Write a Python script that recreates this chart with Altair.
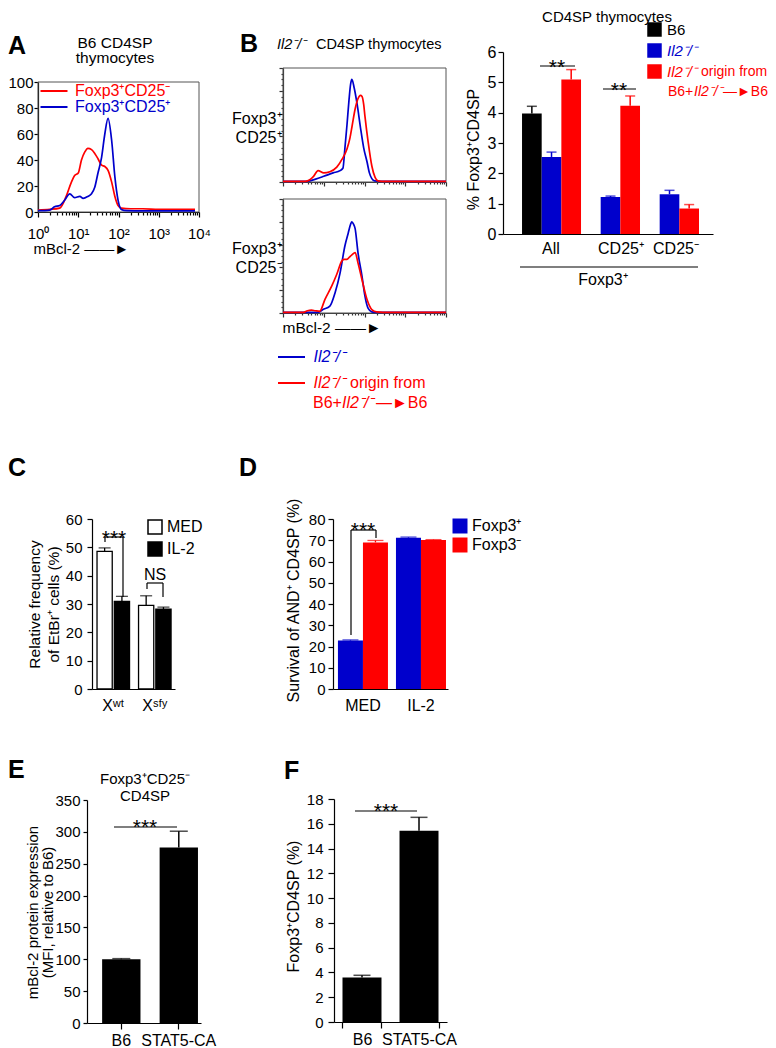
import altair as alt
import pandas as pd

# ---------------- colours / fonts ----------------
RED = "#FF0000"
BLUE = "#0000CC"
BLACK = "#000000"
FRAME = "#555555"
FONT = "Liberation Sans"

# ---------------- Panel A : B6 CD4SP thymocytes (mBcl-2 histograms) ----------------
A_pops = ["Foxp3⁺CD25⁻", "Foxp3⁺CD25⁺"]
A_red_log = [0, 0.29, 0.54, 0.7, 0.83, 0.91, 1.0, 1.08, 1.16, 1.24, 1.33, 1.41, 1.49,
             1.58, 1.66, 1.74, 1.83, 1.91, 1.99, 2.07, 2.3, 2.6, 3.0, 3.5, 3.9]
A_red_pct = [1.5, 2, 3, 12, 23, 28, 30, 40, 46, 49, 48, 45, 41,
             36, 35, 32, 23, 12, 5, 3, 2.5, 2.5, 2, 2, 2]
A_blue_log = [0, 0.29, 0.41, 0.54, 0.66, 0.79, 0.91, 1.04, 1.12, 1.24, 1.33, 1.41, 1.49,
              1.58, 1.66, 1.74, 1.83, 1.91, 1.99, 2.07, 2.2, 2.6, 3.0, 3.5, 3.9]
A_blue_pct = [1, 1.5, 4, 5, 9, 14, 11, 12, 10.5, 12, 14, 19, 30,
              42, 60, 72, 55, 27, 9, 2, 1, 0.8, 0.8, 0.8, 0.8]

# ---------------- Panel B : Il2-/- CD4SP histograms ----------------
B_up_blue_log = [0, 0.5, 0.66, 0.8, 1.0, 1.23, 1.4, 1.47, 1.52, 1.57, 1.62, 1.66, 1.69,
                 1.75, 1.82, 1.9, 1.98, 2.06, 2.12, 2.18, 2.25, 2.5, 3.0, 3.5, 4.0]
B_up_blue_pct = [0.5, 0.5, 1, 2.5, 5, 8, 10, 12, 30, 50, 72, 86, 90,
                 82, 68, 48, 30, 18, 8, 3, 1, 0.5, 0.5, 0.5, 0.5]
B_up_red_log = [0, 0.5, 0.6, 0.75, 0.86, 1.0, 1.15, 1.32, 1.45, 1.57, 1.64, 1.7, 1.77,
                1.84, 1.9, 1.94, 1.98, 2.01, 2.09, 2.18, 2.26, 2.33, 2.5, 3.0, 3.5, 4.0]
B_up_red_pct = [0.5, 0.5, 1, 5, 10, 8, 9, 13, 20, 29, 38, 50, 64,
                73, 76, 75, 68, 58, 35, 14, 4, 1, 0.5, 0.5, 0.5, 0.5]
B_lo_blue_log = [0, 0.5, 0.86, 0.98, 1.15, 1.28, 1.4, 1.52, 1.6, 1.66, 1.69, 1.73,
                 1.77, 1.84, 1.94, 2.01, 2.09, 2.18, 2.3, 2.6, 3.0, 3.5, 4.0]
B_lo_blue_pct = [0.5, 0.5, 0.5, 3, 6, 18, 35, 59, 70, 78, 80, 78,
                 74, 53, 32, 15, 4, 1, 0.5, 0.5, 0.5, 0.5, 0.5]
B_lo_red_log = [0, 0.5, 0.6, 0.7, 0.79, 0.9, 1.03, 1.2, 1.32, 1.45, 1.5, 1.57,
                1.63, 1.69, 1.77, 1.84, 1.94, 2.06, 2.18, 2.3, 2.6, 3.0, 3.5, 4.0]
B_lo_red_pct = [0.5, 0.5, 2, 2.5, 2, 1.5, 12, 24, 34, 46, 47, 47,
                49, 51, 53, 44, 29, 12, 3, 1, 0.5, 0.5, 0.5, 0.5]

# ---------------- Panel B : bar chart ----------------
B_groups = ["All", "All", "All", "CD25⁺", "CD25⁺", "CD25⁻", "CD25⁻"]
B_series = ["B6", "Il2", "Chim", "Il2", "Chim", "Il2", "Chim"]
B_values = [3.97, 2.54, 5.09, 1.22, 4.23, 1.31, 0.84]
B_errors = [0.24, 0.16, 0.33, 0.03, 0.32, 0.13, 0.13]

# ---------------- Panel C ----------------
C_groups = ["Xʷᵗ", "Xʷᵗ", "Xˢᶠʸ", "Xˢᶠʸ"]
C_treat = ["MED", "IL-2", "MED", "IL-2"]
C_values = [48.6, 30.9, 29.5, 28.2]
C_errors = [1.2, 1.8, 3.4, 0.7]

# ---------------- Panel D ----------------
D_groups = ["MED", "MED", "IL-2", "IL-2"]
D_cells = ["Foxp3⁺", "Foxp3⁻", "Foxp3⁺", "Foxp3⁻"]
D_values = [22.8, 69.0, 71.2, 70.1]
D_errors = [0.3, 0.9, 0.3, 0.2]

# ---------------- Panels E / F ----------------
E_cats = ["B6", "STAT5-CA"]
E_values = [100, 275.5]
E_errors = [1.0, 25.5]
F_cats = ["B6", "STAT5-CA"]
F_values = [3.6, 15.44]
F_errors = [0.17, 1.08]

# ================= layout helpers =================
W, H = 760, 1040


def px(v):
    return v - 8


ONE = alt.Data(values=[{}])


def label(s, x, y, size=16, color=BLACK, align="left", baseline="middle", weight="normal", style="normal"):
    return alt.Chart(ONE).mark_text(text=s, font=FONT, fontSize=size, color=color, align=align,
                                    baseline=baseline, fontWeight=weight, fontStyle=style).encode(
        x=alt.value(px(x)), y=alt.value(px(y)))


def seg(x1, y1, x2, y2, width=1.2, color=BLACK):
    return alt.Chart(ONE).mark_rule(color=color, strokeWidth=width).encode(
        x=alt.value(px(x1)), y=alt.value(px(y1)), x2=alt.value(px(x2)), y2=alt.value(px(y2)))


def stars(s, cx, bottom, size=21):
    return label(s, cx, bottom + 0.44 * size, size=size, align="center", baseline="alphabetic")


def yaxis(xpage, values, **kw):
    base = dict(orient="left", offset=-px(xpage), values=values, grid=False, title=None,
                labelFontSize=15, tickSize=5, labelPadding=3)
    base.update(kw)
    return alt.Axis(**base)


def xaxis(ypage, **kw):
    base = dict(orient="bottom", offset=px(ypage) - H, grid=False, title=None)
    base.update(kw)
    return alt.Axis(**base)


def tick_cond(test, big, small):
    return {"condition": {"test": test, "value": big}, "value": small}


LOG_TICKS = [m * 10 ** e for e in range(4) for m in range(1, 10)] + [10000]
MAJOR = "datum.value == 1 || datum.value == 10 || datum.value == 100 || datum.value == 1000 || datum.value == 10000"
SUPERS = ("datum.value == 1 ? '10⁰' : datum.value == 10 ? '10¹' : datum.value == 100 ? '10²' : "
          "datum.value == 1000 ? '10³' : datum.value == 10000 ? '10⁴' : ''")

# ================= Panel A =================
dfA = pd.DataFrame({
    "lx": A_red_log + A_blue_log,
    "pct": A_red_pct + A_blue_pct,
    "pop": [A_pops[0]] * len(A_red_log) + [A_pops[1]] * len(A_blue_log),
})
xA = alt.Scale(type="log", domain=[1, 10000], range=[px(38), px(199)])
yA = alt.Scale(domain=[0, 100], range=[px(212), px(82)])
legA = alt.Legend(orient="none", legendX=px(40), legendY=px(83), title=None, direction="vertical",
                  symbolType="M-2.7,0H2.7", symbolSize=100, symbolStrokeWidth=2, symbolOffset=6,
                  labelOffset=13, labelFontSize=16, rowPadding=0, padding=0,
                  labelColor=alt.ExprRef("datum.value == 'Foxp3⁺CD25⁻' ? '#FF0000' : '#0000CC'"))
A_frame = alt.Chart(ONE).mark_rect(fillOpacity=0, stroke=FRAME, strokeWidth=1).encode(
    x=alt.XDatum(1, scale=xA, axis=None), x2=alt.X2Datum(10000),
    y=alt.YDatum(0, scale=yA, axis=None), y2=alt.Y2Datum(100))
A_lines = alt.Chart(dfA).transform_calculate(mbcl2="pow(10, datum.lx)").mark_line(
    strokeWidth=1.7, interpolate="monotone").encode(
    x=alt.X("mbcl2:Q", scale=xA,
            axis=xaxis(212, values=LOG_TICKS, labelExpr=SUPERS, labelFontSize=15, labelFlush=False,
                       labelOverlap=False, labelPadding=9, tickSize=tick_cond(MAJOR, 5, 3),
                       title="mBcl-2 ——►", titleX=px(33), titleY=36, titleAlign="left",
                       titleBaseline="middle", titleFontSize=15)),
    y=alt.Y("pct:Q", scale=yA, axis=yaxis(38, list(range(0, 101, 20)), labelPadding=1, tickSize=4)),
    color=alt.Color("pop:N", scale=alt.Scale(domain=A_pops, range=[RED, BLUE]), legend=legA),
)
panelA = [A_frame, A_lines]


# ================= Panel B histograms =================
def hist_panel(blue_log, blue_pct, red_log, red_pct, top, bottom, ytitle, title_y, legend, xtitle):
    df = pd.DataFrame({"lx": blue_log + red_log, "pct": blue_pct + red_pct,
                       "src": ["Il2"] * len(blue_log) + ["Chim"] * len(red_log)})
    xs = alt.Scale(type="log", domain=[1, 10000], range=[px(283), px(446)])
    ys = alt.Scale(domain=[0, 100], range=[px(bottom), px(top)])
    xa = xaxis(bottom, values=LOG_TICKS, labels=False, tickSize=tick_cond(MAJOR, 4, 2),
               domainColor="#333333", tickColor="#333333", **xtitle)
    ya = yaxis(283, list(range(0, 101, 5)), labels=False,
               tickSize=tick_cond("datum.value % 20 == 0", 4, 2),
               title=ytitle, titleAngle=0, titleAlign="right", titleBaseline="middle",
               titleX=-2, titleY=px(title_y), titleFontSize=16, titleLineHeight=19,
               domainColor="#333333", tickColor="#333333")
    frame = alt.Chart(ONE).mark_rect(fillOpacity=0, stroke=FRAME, strokeWidth=1).encode(
        x=alt.XDatum(1, scale=xs, axis=None), x2=alt.X2Datum(10000),
        y=alt.YDatum(0, scale=ys, axis=None), y2=alt.Y2Datum(100))
    lines = alt.Chart(df).transform_calculate(mbcl2="pow(10, datum.lx)").mark_line(
        strokeWidth=1.7, interpolate="monotone").encode(
        x=alt.X("mbcl2:Q", scale=xs, axis=xa),
        y=alt.Y("pct:Q", scale=ys, axis=ya),
        color=alt.Color("src:N", scale=alt.Scale(domain=["Il2", "Chim"], range=[BLUE, RED]), legend=legend))
    return [frame, lines]


legBh = alt.Legend(orient="none", legendX=px(278), legendY=px(349), title=None, direction="vertical",
                   symbolType="M-2.7,0H2.7", symbolSize=100, symbolStrokeWidth=2, symbolOffset=5.5,
                   labelOffset=14, labelFontSize=16, rowPadding=10, padding=0,
                   labelExpr="'Il2⁻/⁻'", labelFontStyle="italic",
                   labelColor=alt.ExprRef("datum.value == 'Il2' ? '#0000CC' : '#FF0000'"))
panelBu = hist_panel(B_up_blue_log, B_up_blue_pct, B_up_red_log, B_up_red_pct, 68, 182,
                     ["Foxp3⁺", "CD25⁺"], 118, None, {})
panelBl = hist_panel(B_lo_blue_log, B_lo_blue_pct, B_lo_red_log, B_lo_red_pct, 199, 313,
                     ["Foxp3⁺", "CD25⁻"], 248, legBh,
                     dict(title="mBcl-2 ——►", titleX=px(282), titleY=14, titleAlign="left",
                          titleBaseline="middle", titleFontSize=15.5))

# ================= Panel B bars =================
dfB = pd.DataFrame({"grp": B_groups, "series": B_series, "val": B_values, "err": B_errors})
dfB["slot"] = dfB["grp"] + "|" + dfB["series"]
B_slots = ["All|B6", "All|Il2", "All|Chim", "gap1", "CD25⁺|Il2", "CD25⁺|Chim", "gap2",
           "CD25⁻|Il2", "CD25⁻|Chim"]
xBb = alt.Scale(domain=B_slots, range=[px(503), px(713)], paddingInner=0, paddingOuter=0.84, align=0.576)
yBb = alt.Scale(domain=[0, 6], range=[px(234), px(52)])
cBb = alt.Scale(domain=["B6", "Il2", "Chim"], range=[BLACK, BLUE, RED])
legBb = alt.Legend(orient="none", legendX=px(647), legendY=px(22), title=None, direction="vertical",
                   symbolType="square", symbolSize=210, symbolStrokeWidth=0, labelOffset=5,
                   rowPadding=5, labelFontSize=15, padding=0,
                   labelExpr="datum.value == 'B6' ? 'B6' : 'Il2⁻/⁻'",
                   labelFontStyle=alt.ExprRef("datum.value == 'B6' ? 'normal' : 'italic'"),
                   labelColor=alt.ExprRef("datum.value == 'B6' ? '#000000' : datum.value == 'Il2' ? '#0000CC' : '#FF0000'"))
baseB = alt.Chart(dfB).transform_calculate(hi="datum.val + datum.err")
barsB = baseB.mark_bar().encode(
    x=alt.X("slot:N", scale=xBb, axis=xaxis(234, ticks=False, labels=False)),
    y=alt.Y("val:Q", scale=yBb, stack=None,
            axis=yaxis(503, list(range(7)), labelFontSize=16, labelPadding=2,
                       title="% Foxp3⁺CD4SP", titleX=-30, titleY=px(149), titleFontSize=16,
                       titleBaseline="middle")),
    color=alt.Color("series:N", scale=cBb, legend=legBb))
errB = baseB.mark_rule(strokeWidth=1.5).encode(
    x=alt.X("slot:N", scale=xBb, axis=None), y=alt.Y("val:Q", scale=yBb, axis=None), y2="hi:Q",
    color=alt.Color("series:N", scale=cBb, legend=None))
capB = baseB.mark_tick(thickness=1.5, size=10).encode(
    x=alt.X("slot:N", scale=xBb, axis=None), y=alt.Y("hi:Q", scale=yBb, axis=None, stack=None),
    color=alt.Color("series:N", scale=cBb, legend=None))
panelBb = [barsB, errB, capB]


# ================= grouped bar panels C, D =================
def grouped_panel(groups, sub, values, errors, xs, xos, ys, cs, stroke, cap, legend, xax, yax, errcolor):
    df = pd.DataFrame({"grp": groups, "sub": sub, "val": values, "err": errors})
    base = alt.Chart(df).transform_calculate(hi="datum.val + datum.err")
    bars = base.mark_bar(stroke=stroke if stroke else "transparent", strokeWidth=1.3 if stroke else 0).encode(
        x=alt.X("grp:N", scale=xs, axis=xax, sort=None),
        xOffset=alt.XOffset("sub:N", scale=xos),
        y=alt.Y("val:Q", scale=ys, stack=None, axis=yax),
        color=alt.Color("sub:N", scale=cs, legend=legend))
    if errcolor:
        err = base.mark_rule(strokeWidth=1.3, color=errcolor).encode(
            x=alt.X("grp:N", scale=xs, axis=None), xOffset=alt.XOffset("sub:N", scale=xos),
            y=alt.Y("val:Q", scale=ys, axis=None), y2="hi:Q")
        caps = base.mark_tick(thickness=1.3, size=cap, color=errcolor).encode(
            x=alt.X("grp:N", scale=xs, axis=None), xOffset=alt.XOffset("sub:N", scale=xos),
            y=alt.Y("hi:Q", scale=ys, axis=None, stack=None))
    else:
        err = base.mark_rule(strokeWidth=1.3).encode(
            x=alt.X("grp:N", scale=xs, axis=None), xOffset=alt.XOffset("sub:N", scale=xos),
            y=alt.Y("val:Q", scale=ys, axis=None), y2="hi:Q",
            color=alt.Color("sub:N", scale=cs, legend=None))
        caps = base.mark_tick(thickness=1.3, size=cap).encode(
            x=alt.X("grp:N", scale=xs, axis=None), xOffset=alt.XOffset("sub:N", scale=xos),
            y=alt.Y("hi:Q", scale=ys, axis=None, stack=None),
            color=alt.Color("sub:N", scale=cs, legend=None))
    return [bars, err, caps]


C_grp_order = list(dict.fromkeys(C_groups))
C_sub_order = list(dict.fromkeys(C_treat))
panelC = grouped_panel(
    C_groups, C_treat, C_values, C_errors,
    alt.Scale(domain=C_grp_order, range=[px(92), px(175)], paddingInner=0.217, paddingOuter=0.108, align=0.56),
    alt.Scale(domain=C_sub_order, paddingInner=0.12, paddingOuter=0),
    alt.Scale(domain=[0, 60], range=[px(689), px(519)]),
    alt.Scale(domain=C_sub_order, range=["#FFFFFF", BLACK]),
    BLACK, 12,
    alt.Legend(orient="none", legendX=px(147), legendY=px(519), title=None, direction="vertical",
               symbolType="square", symbolSize=196, symbolStrokeColor=BLACK, symbolStrokeWidth=1.5,
               labelOffset=4, rowPadding=2, labelFontSize=16, padding=0),
    xaxis(689, ticks=False, labelFontSize=16, labelPadding=8, labelAngle=0),
    yaxis(92, list(range(0, 61, 10)), labelPadding=5,
          title=["Relative frequency", "of EtBr⁺ cells (%)"], titleX=-58, titleY=px(604),
          titleFontSize=15.5, titleLineHeight=19, titleBaseline="middle"),
    BLACK)

D_grp_order = list(dict.fromkeys(D_groups))
D_sub_order = list(dict.fromkeys(D_cells))
panelD = grouped_panel(
    D_groups, D_cells, D_values, D_errors,
    alt.Scale(domain=D_grp_order, range=[px(333), px(448)], paddingInner=0.138, paddingOuter=0.06, align=0.71),
    alt.Scale(domain=D_sub_order, paddingInner=0, paddingOuter=0),
    alt.Scale(domain=[0, 80], range=[px(689), px(519)]),
    alt.Scale(domain=D_sub_order, range=[BLUE, RED]),
    None, 16,
    alt.Legend(orient="none", legendX=px(452), legendY=px(518), title=None, direction="vertical",
               symbolType="square", symbolSize=225, symbolStrokeWidth=0,
               labelOffset=4, rowPadding=3, labelFontSize=16, padding=0),
    xaxis(689, ticks=False, labelFontSize=16, labelPadding=8, labelAngle=0),
    yaxis(333, list(range(0, 81, 10)), labelPadding=3,
          title="Survival of AND⁺ CD4SP (%)", titleX=-40, titleY=px(600),
          titleFontSize=16, titleBaseline="middle"),
    None)


# ================= simple bar panels E, F =================
def simple_panel(cats, values, errors, xs, ys, cap, xax, yax):
    df = pd.DataFrame({"cat": cats, "val": values, "err": errors})
    base = alt.Chart(df).transform_calculate(hi="datum.val + datum.err")
    bars = base.mark_bar(color=BLACK).encode(
        x=alt.X("cat:N", scale=xs, axis=xax, sort=None),
        y=alt.Y("val:Q", scale=ys, stack=None, axis=yax))
    err = base.mark_rule(color=BLACK, strokeWidth=1.5).encode(
        x=alt.X("cat:N", scale=xs, axis=None), y=alt.Y("val:Q", scale=ys, axis=None), y2="hi:Q")
    caps = base.mark_tick(color=BLACK, thickness=1.5, size=cap).encode(
        x=alt.X("cat:N", scale=xs, axis=None), y=alt.Y("hi:Q", scale=ys, axis=None, stack=None))
    return [bars, err, caps]


panelE = simple_panel(
    E_cats, E_values, E_errors,
    alt.Scale(domain=E_cats, range=[px(87), px(201)], paddingInner=0.333, paddingOuter=0.158, align=0.833),
    alt.Scale(domain=[0, 350], range=[px(1023), px(800)]),
    18,
    xaxis(1023, tickSize=6, labelFontSize=16, labelPadding=3, labelAngle=0),
    yaxis(87, list(range(0, 351, 50)), labelPadding=3, tickSize=4,
          title=["mBcl-2 protein expression", "(MFI, relative to B6)"], titleX=-55, titleY=px(912),
          titleFontSize=15, titleLineHeight=15.5, titleBaseline="middle"))

panelF = simple_panel(
    F_cats, F_values, F_errors,
    alt.Scale(domain=F_cats, range=[px(334), px(447)], paddingInner=0.316, paddingOuter=0.149, align=0.5),
    alt.Scale(domain=[0, 18], range=[px(1022), px(799)]),
    17,
    xaxis(1022, tickSize=6, tickBand="extent", labelFontSize=16, labelPadding=3, labelAngle=0),
    yaxis(334, list(range(0, 19, 2)), labelPadding=5, tickSize=6,
          title="Foxp3⁺CD4SP (%)", titleX=-41, titleY=px(906), titleFontSize=16,
          titleBaseline="middle"))

# ================= annotations =================
notes = [
    # panel letters (page area starts at x = 8)
    label("A", 8, 45.5, size=25, weight="bold"),
    label("B", 240, 44, size=25, weight="bold"),
    label("C", 8, 468, size=25, weight="bold"),
    label("D", 239, 468, size=25, weight="bold"),
    label("E", 8, 770, size=25, weight="bold"),
    label("F", 284, 771, size=25, weight="bold"),
    # panel A title
    label("B6 CD4SP", 115, 42.5, size=15.5, align="center"),
    label("thymocytes", 115, 57.5, size=15.5, align="center"),
    # panel B histogram title
    label("Il2⁻/⁻", 277, 45, size=14.5, style="italic"),
    label("CD4SP thymocytes", 316, 45, size=14.5),
    # panel B histogram legend continuation
    label("origin from", 350, 383, color=RED),
    label("B6+", 313, 403, color=RED),
    label("Il2⁻/⁻", 342, 403, color=RED, style="italic"),
    label("—►B6", 376, 403, color=RED),
    # panel B bar chart
    label("CD4SP thymocytes", 607, 17, size=15, align="center"),
    label("origin from", 701, 72, size=14, color=RED),
    label("B6+", 668, 92, size=14, color=RED),
    label("Il2⁻/⁻", 694, 92, size=14, color=RED, style="italic"),
    label("—►B6", 723, 92, size=14, color=RED),
    label("All", 551, 249, align="center"),
    label("CD25⁺", 621, 249, align="center"),
    label("CD25⁻", 676, 249, align="center"),
    seg(520, 267, 698, 267),
    label("Foxp3⁺", 603, 280, align="center"),
    seg(540, 66, 575, 66), stars("**", 557, 64.5),
    seg(603, 89, 636, 89), stars("**", 619, 87.5),
    # panel C significance
    seg(105, 537, 123, 537), seg(105, 537, 105, 542), seg(123, 537, 123, 597),
    stars("***", 114, 535.5),
    seg(147, 583, 163, 583), seg(147, 583, 147, 589), seg(163, 583, 163, 597),
    label("NS", 155, 575, align="center"),
    # panel D significance
    seg(351, 530, 376, 530), seg(351, 530, 351, 635), seg(376, 530, 376, 538),
    stars("***", 363, 528),
    # panel E
    label("Foxp3⁺CD25⁻", 145, 779, size=15, align="center"),
    label("CD4SP", 145, 796, size=15, align="center"),
    seg(114, 827, 177, 827), stars("***", 145, 824.5),
    # panel F
    seg(355, 811, 417, 811), stars("***", 386, 809),
]

chart = alt.layer(
    *panelA, *panelBu, *panelBl, *panelBb, *panelC, *panelD, *panelE, *panelF, *notes
).resolve_scale(
    x="independent", y="independent", color="independent", xOffset="independent"
).properties(
    width=W, height=H, autosize=alt.AutoSizeParams(type="none"), padding=0
).configure(
    font=FONT
).configure_view(
    stroke=None
).configure_axis(
    labelFont=FONT, titleFont=FONT, labelColor=BLACK, titleColor=BLACK,
    domainColor=BLACK, tickColor=BLACK, titleFontWeight="normal", domainWidth=1.2, tickWidth=1.2
).configure_legend(
    labelFont=FONT, titleFont=FONT
)

chart.save("out.html", embed_options={"renderer": "svg", "actions": False})
